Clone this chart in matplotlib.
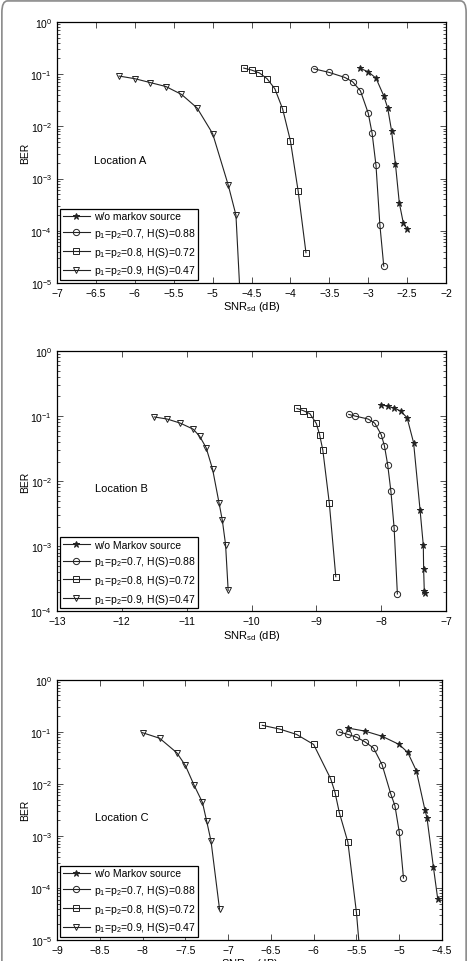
import numpy as np
import matplotlib
matplotlib.use("Agg")
from matplotlib import pyplot as plt
from matplotlib.patches import FancyBboxPatch

plt.rcParams['font.family'] = ['Liberation Sans', 'DejaVu Sans']
plt.rcParams['mathtext.default'] = 'regular'
plt.rcParams['font.size'] = 7.5

# ---- data: Location A ----
a_star_x = [-3.1, -3.0, -2.9, -2.8, -2.75, -2.7, -2.65, -2.6, -2.55, -2.5]
a_star_y = [0.129, 0.111, 0.084, 0.0385, 0.0226, 0.0083, 1.9e-3, 3.4e-4, 1.44e-4, 1.07e-4]
a_circ_x = [-3.7, -3.5, -3.3, -3.2, -3.1, -3.0, -2.95, -2.9, -2.85, -2.8]
a_circ_y = [0.127, 0.108, 0.0866, 0.0715, 0.048, 0.018, 0.0074, 1.8e-3, 1.3e-4, 2.1e-5]
a_sq_x = [-4.6, -4.5, -4.4, -4.3, -4.2, -4.1, -4.0, -3.9, -3.8]
a_sq_y = [0.131, 0.120, 0.106, 0.082, 0.0525, 0.0216, 0.0053, 5.7e-4, 3.8e-5]
a_tri_x = [-6.2, -6.0, -5.8, -5.6, -5.4, -5.2, -5.0, -4.8, -4.7, -4.6]
a_tri_y = [0.092, 0.082, 0.069, 0.058, 0.041, 0.0226, 0.0073, 7.6e-4, 2.0e-4, 2.6e-7]

# ---- data: Location B ----
b_star_x = [-8.0, -7.9, -7.8, -7.7, -7.6, -7.5, -7.4, -7.35, -7.345, -7.335, -7.33]
b_star_y = [0.150, 0.141, 0.133, 0.120, 0.094, 0.039, 3.6e-3, 1.03e-3, 4.4e-4, 2.05e-4, 1.9e-4]
b_circ_x = [-8.5, -8.4, -8.2, -8.1, -8.0, -7.95, -7.9, -7.85, -7.8, -7.75]
b_circ_y = [0.106, 0.100, 0.090, 0.078, 0.052, 0.035, 0.018, 7.0e-3, 1.9e-3, 1.85e-4]
b_sq_x = [-9.3, -9.2, -9.1, -9.0, -8.95, -8.9, -8.8, -8.7]
b_sq_y = [0.131, 0.121, 0.109, 0.077, 0.052, 0.030, 4.6e-3, 3.4e-4]
b_tri_x = [-11.5, -11.3, -11.1, -10.9, -10.8, -10.7, -10.6, -10.5, -10.45, -10.4, -10.36]
b_tri_y = [0.097, 0.090, 0.078, 0.063, 0.049, 0.0327, 0.0152, 4.6e-3, 2.5e-3, 1.06e-3, 2.1e-4]

# ---- data: Location C ----
c_star_x = [-5.6, -5.4, -5.2, -5.0, -4.9, -4.8, -4.7, -4.675, -4.6, -4.55]
c_star_y = [0.118, 0.103, 0.082, 0.057, 0.040, 0.0179, 3.2e-3, 2.2e-3, 2.5e-4, 6.2e-5]
c_circ_x = [-5.7, -5.6, -5.5, -5.4, -5.3, -5.2, -5.1, -5.05, -5.0, -4.95]
c_circ_y = [0.099, 0.089, 0.079, 0.064, 0.0487, 0.0233, 6.5e-3, 3.8e-3, 1.2e-3, 1.55e-4]
c_sq_x = [-6.6, -6.4, -6.2, -6.0, -5.8, -5.75, -5.7, -5.6, -5.5, -5.45]
c_sq_y = [0.133, 0.113, 0.089, 0.057, 0.0124, 6.8e-3, 2.8e-3, 7.6e-4, 3.4e-5, 3.6e-6]
c_tri_x = [-8.0, -7.8, -7.6, -7.5, -7.4, -7.3, -7.25, -7.2, -7.1]
c_tri_y = [0.096, 0.075, 0.0396, 0.0226, 9.6e-3, 4.4e-3, 1.9e-3, 8.0e-4, 3.9e-5]

labels_a = ['w/o markov source', 'p$_1$=p$_2$=0.7, H(S)=0.88',
            'p$_1$=p$_2$=0.8, H(S)=0.72', 'p$_1$=p$_2$=0.9, H(S)=0.47']
labels_bc = ['w/o Markov source'] + labels_a[1:]

fig = plt.figure(figsize=(4.68, 9.62), dpi=100)

# grey rounded frame round the figure
fig.patches.append(FancyBboxPatch((0.004, -0.05), 0.992, 1.048,
                                  boxstyle="round,pad=0,rounding_size=0.012",
                                  transform=fig.transFigure, fill=False,
                                  edgecolor='#8a8a8a', linewidth=1.2))


def panel(rect, series, labels, xlim, xticks, ylim, loc_text, loc_xy):
    ax = fig.add_axes(rect)
    styles = [dict(marker='*', ms=4.5, mfc='#222222', mec='#222222'),
              dict(marker='o', ms=4.5, mfc='none', mec='#222222'),
              dict(marker='s', ms=4, mfc='none', mec='#222222'),
              dict(marker='v', ms=4.5, mfc='none', mec='#222222')]
    for (x, y), st, lab in zip(series, styles, labels):
        ax.semilogy(x, y, color='#222222', lw=0.8, mew=0.7, label=lab, **st)
    ax.set_xlim(*xlim)
    ax.set_ylim(*ylim)
    ax.set_xticks(xticks)
    ax.set_xticklabels([('%g' % t).replace('-', '\u2212') for t in xticks])
    ax.tick_params(which='both', direction='in', top=True, right=True,
                   labelsize=7.5, width=0.6, color='#333333')
    ax.tick_params(which='major', length=4)
    ax.tick_params(which='minor', length=2)
    for s in ax.spines.values():
        s.set_linewidth(0.9)
    ax.set_ylabel('BER', fontsize=7.5, labelpad=0)
    ax.set_xlabel('SNR$_{sd}$ (dB)', fontsize=8, labelpad=1)
    ax.text(loc_xy[0], loc_xy[1], loc_text, fontsize=8, va='center', ha='left')
    leg = ax.legend(loc='lower left', fontsize=7.5, handlelength=2.6,
                    borderaxespad=0.3, labelspacing=0.45, handletextpad=0.4,
                    fancybox=False, edgecolor='black', framealpha=1,
                    borderpad=0.25)
    leg.get_frame().set_linewidth(0.9)
    return ax


panel([0.1218, 0.7048, 0.8312, 0.2713],
      [(a_star_x, a_star_y), (a_circ_x, a_circ_y), (a_sq_x, a_sq_y), (a_tri_x, a_tri_y)],
      labels_a, (-7, -2), np.arange(-7, -1.99, 0.5), (1e-5, 1),
      'Location A', (-6.52, 2.3e-3))

panel([0.1218, 0.3635, 0.8312, 0.2706],
      [(b_star_x, b_star_y), (b_circ_x, b_circ_y), (b_sq_x, b_sq_y), (b_tri_x, b_tri_y)],
      labels_bc, (-13, -7), np.arange(-13, -6.99, 1), (1e-4, 1),
      'Location B', (-12.42, 7.8e-3))

panel([0.1218, 0.0218, 0.8226, 0.2706],
      [(c_star_x, c_star_y), (c_circ_x, c_circ_y), (c_sq_x, c_sq_y), (c_tri_x, c_tri_y)],
      labels_bc, (-9, -4.5), np.arange(-9, -4.49, 0.5), (1e-5, 1),
      'Location C', (-8.56, 2.3e-3))

fig.savefig('out.png', dpi=100)
